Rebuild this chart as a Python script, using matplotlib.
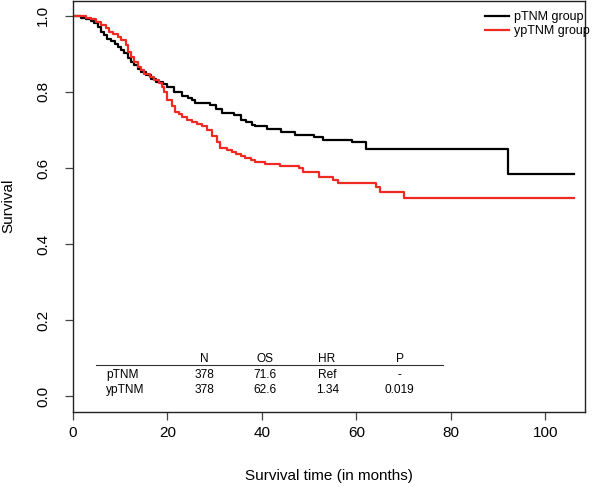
import numpy as np
import matplotlib.pyplot as plt

plt.rcParams['font.family'] = ['Liberation Sans', 'DejaVu Sans']

# Kaplan-Meier steps (time in months, survival after step)
p_time = [0, 1.7, 2.7, 3.8, 4.5, 5.2, 5.9, 6.6, 7.3, 8.0,
          8.8, 9.5, 10.1, 10.9, 11.6, 12.3, 13.0, 13.7, 14.4, 15.4,
          16.5, 17.5, 19.0, 19.8, 21.4, 23.1, 24.3, 25.2, 25.9, 29.1,
          30.2, 31.6, 34.0, 35.5, 36.7, 37.9, 38.6, 41.1, 44.0, 47.1,
          51.0, 53.0, 59.1, 62.0, 92.0]
p_surv = [1.0, 0.995, 0.991, 0.986, 0.980, 0.971, 0.958, 0.949, 0.940, 0.933,
          0.927, 0.918, 0.910, 0.901, 0.888, 0.879, 0.870, 0.861, 0.853, 0.844,
          0.835, 0.826, 0.820, 0.812, 0.801, 0.789, 0.784, 0.779, 0.772, 0.766,
          0.754, 0.745, 0.739, 0.726, 0.720, 0.713, 0.709, 0.702, 0.694, 0.687,
          0.681, 0.674, 0.667, 0.650, 0.583]
p_end = 106.1

yp_time = [0, 2.8, 3.8, 4.9, 5.9, 7.0, 7.7, 8.4, 9.5, 10.1,
           11.2, 11.6, 12.3, 13.0, 13.7, 14.4, 15.1, 16.2, 17.2, 18.3,
           18.9, 19.2, 20.0, 21.0, 21.7, 22.4, 23.1, 24.2, 25.2, 26.3,
           27.4, 28.3, 29.5, 30.4, 31.2, 32.6, 33.6, 34.6, 35.5, 36.5,
           37.6, 38.6, 40.7, 43.9, 47.8, 48.8, 52.0, 55.0, 56.0, 64.1,
           65.0, 70.1]
yp_surv = [1.0, 0.995, 0.991, 0.984, 0.975, 0.967, 0.958, 0.951, 0.945, 0.936,
           0.923, 0.905, 0.892, 0.879, 0.866, 0.857, 0.848, 0.839, 0.831, 0.824,
           0.812, 0.801, 0.778, 0.762, 0.748, 0.742, 0.733, 0.726, 0.721, 0.716,
           0.709, 0.700, 0.685, 0.668, 0.652, 0.647, 0.642, 0.636, 0.631, 0.626,
           0.620, 0.615, 0.610, 0.604, 0.599, 0.589, 0.575, 0.568, 0.561, 0.549,
           0.538, 0.522]
yp_end = 106.0

group_names = ['pTNM group', 'ypTNM group']

table_header = ['N', 'OS', 'HR', 'P']
table_rows = ['pTNM', 'ypTNM']
table_vals = [['378', '71.6', 'Ref', '-'],
              ['378', '62.6', '1.34', '0.019']]

x_ticks = [0, 20, 40, 60, 80, 100]
y_ticks = [0.0, 0.2, 0.4, 0.6, 0.8, 1.0]

# layout
col_x = [27.9, 40.7, 53.8, 69.2]
row_label_x = 7.0
header_y = 0.089
row_y = [0.047, 0.007]
rule_y = 0.083
rule_x = (4.95, 78.3)

fig = plt.figure(figsize=(5.96, 4.87), dpi=100)
ax = fig.add_axes([73 / 596, 1 - 411.7 / 487, 512 / 596, 410.7 / 487])

red = '#ee2a22'
ax.step(p_time + [p_end], p_surv + [p_surv[-1]], where='post',
        color='black', lw=1.6, label=group_names[0])
ax.step(yp_time + [yp_end], yp_surv + [yp_surv[-1]], where='post',
        color=red, lw=1.6, label=group_names[1])

ax.set_xlim(0, 108.4)
ax.set_ylim(-0.041, 1.039)
ax.set_xticks(x_ticks)
ax.set_yticks(y_ticks)
ax.set_xticklabels([str(v) for v in x_ticks])
ax.set_yticklabels(['%.1f' % v for v in y_ticks], rotation=90, va='center')

for s in ax.spines.values():
    s.set_linewidth(1.0)
    s.set_color('#222222')
ax.tick_params(axis='both', direction='out', length=5.5, width=0.9,
               color='#444444', labelsize=11)
ax.tick_params(axis='x', pad=5)
ax.tick_params(axis='y', pad=11)

ax.set_xlabel('Survival time (in months)', fontsize=11, va='baseline')
ax.xaxis.set_label_coords(329 / 596, 7 / 487, transform=fig.transFigure)
ax.set_ylabel('Survival', fontsize=11, va='center')
ax.yaxis.set_label_coords(8.3 / 596, 1 - 206 / 487, transform=fig.transFigure)

# summary table
for x, h in zip(col_x, table_header):
    ax.text(x, header_y, h, ha='center', va='baseline', fontsize=8.6)
ax.plot(rule_x, [rule_y, rule_y], color='#333333', lw=0.8)
for y, name, vals in zip(row_y, table_rows, table_vals):
    ax.text(row_label_x, y, name, ha='left', va='baseline', fontsize=8.6)
    for x, v in zip(col_x, vals):
        ax.text(x, y, v, ha='center', va='baseline', fontsize=8.6)

ax.legend(loc='upper left', bbox_to_anchor=(485 / 596, 1 - 11 / 487),
          bbox_transform=fig.transFigure, frameon=False, fontsize=9,
          borderpad=0, borderaxespad=0, handlelength=1.9,
          handletextpad=0.45, labelspacing=0.15)

fig.savefig('out.png', dpi=100)
